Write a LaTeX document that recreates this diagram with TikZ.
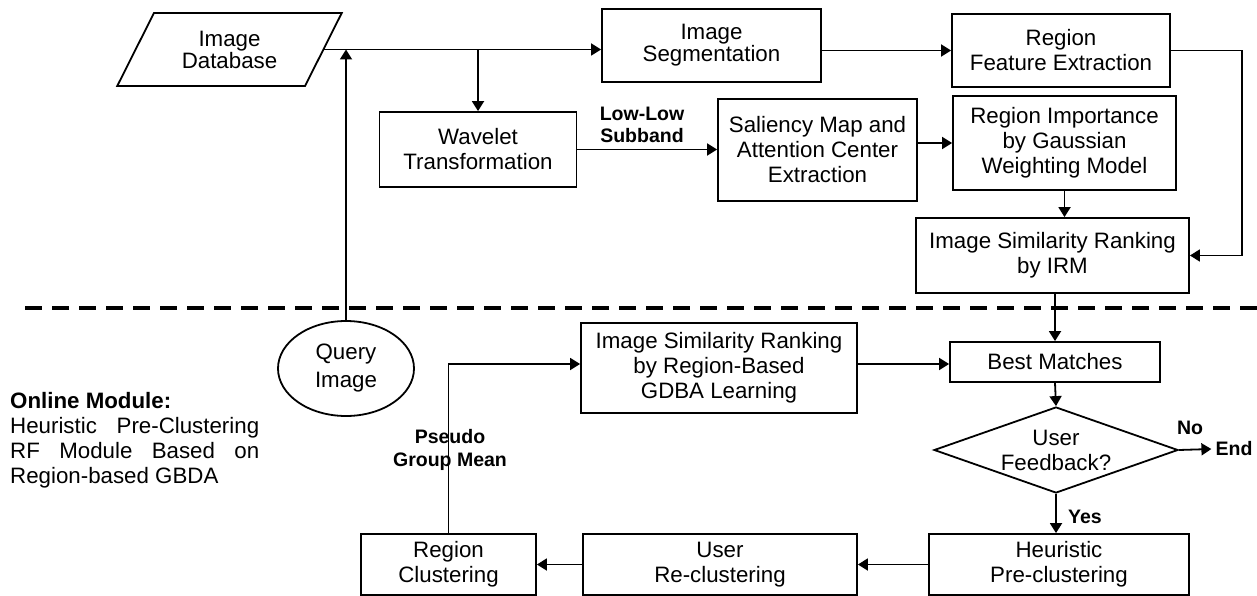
\documentclass[tikz,border=0pt]{standalone}
\usepackage{fontspec}
\setmainfont{Liberation Sans}
\usetikzlibrary{arrows.meta,shapes.geometric}
\begin{document}
\begin{tikzpicture}[x=1pt,y=-1pt,
  box/.style={draw, line width=1.8pt, align=center, font=\fontsize{22.3}{25}\selectfont, inner sep=0pt},
  tight/.style={font=\fontsize{22.3}{22}\selectfont},
  arr/.style={line width=1.8pt, -{Triangle[length=10pt,width=12pt]}},
  lbl/.style={font=\bfseries\fontsize{19.5}{22.5}\selectfont, align=center, inner sep=1pt},
  sep/.style={line width=4pt, dash pattern=on 17pt off 10pt}]
\useasboundingbox (0,0) rectangle (1257,596);

% offline part
\node[box, tight, shape=trapezium, trapezium left angle=58.3, trapezium right angle=121.7,
      trapezium stretches=true, minimum width=225pt, minimum height=73pt] (db) at (229.5,49.5) {Image\\Database};
\node[box, tight, minimum width=219pt, minimum height=73pt] (seg) at (711.5,45.5) {Image\\Segmentation};
\node[box, minimum width=218pt, minimum height=73pt] (rfe) at (1061,50.5) {Region\\Feature Extraction};
\node[box, minimum width=197pt, minimum height=75pt] (wav) at (478,149.5) {Wavelet\\Transformation};
\node[box, minimum width=199pt, minimum height=102pt] (sal) at (817.5,150) {Saliency Map and\\Attention Center\\Extraction};
\node[box, minimum width=223pt, minimum height=94pt] (rim) at (1064.5,143) {Region Importance\\by Gaussian\\Weighting Model};
\node[box, minimum width=273pt, minimum height=75pt] (irm) at (1052.5,255.5) {Image Similarity Ranking\\by IRM};
\node[lbl] (ll) at (642,125) {Low-Low\\Subband};

% separator
\coordinate (sepL) at (25,308);
\coordinate (sepR) at (1257,308);
\draw[sep] (sepL) -- (sepR);

% online part
\node[box, shape=ellipse, minimum width=136pt, minimum height=95pt, font=\fontsize{22.3}{28}\selectfont] (q) at (346,368.5) {Query\\Image};
\node[box, minimum width=276pt, minimum height=90pt] (gdba) at (719,368) {Image Similarity Ranking\\by Region-Based\\GDBA Learning};
\node[box, minimum width=210pt, minimum height=40pt] (best) at (1055,362) {Best Matches};
\node[box, shape=diamond, aspect=2.84, minimum width=244pt, minimum height=86pt] (fb) at (1056,450) {User\\Feedback?};
\node[box, minimum width=260pt, minimum height=61pt] (heur) at (1059,564.5) {Heuristic\\Pre-clustering};
\node[box, minimum width=274pt, minimum height=61pt] (user) at (720,564.5) {User\\Re-clustering};
\node[box, minimum width=175pt, minimum height=61pt] (rc) at (448.5,564.5) {Region\\Clustering};
\node[lbl] (no) at (1190,428) {No};
\node[lbl, inner sep=4pt] (end) at (1234,449) {End};
\node[lbl] (yes) at (1085,517) {Yes};
\node[lbl] (pgm) at (450,450) {Pseudo\\Group Mean};
\node[anchor=north west, inner sep=0pt, text width=249pt, align=justify,
      font=\fontsize{22.3}{25}\selectfont] (om) at (10,392) {\textbf{Online Module:}\\Heuristic Pre-Clustering RF Module Based on Region-based GBDA};

% connectors
\draw[arr] (db.0) -- (seg.west |- db.0);
\draw[arr] (wav.north |- db.0) -- (wav.north);
\draw[arr] (q.north) -- (q.north |- db.0);
\draw[arr] (seg.east |- rfe.west) -- (rfe.west);
\draw[arr] (wav.east) -- (sal.west |- wav.east);
\draw[arr] (sal.east |- rim.west) -- (rim.west);
\draw[arr] (rim.south) -- (rim.south |- irm.north);
\draw[arr] (rfe.east) -- ++(71,0) |- (irm.east);
\draw[arr] (best.north |- irm.south) -- (best.north);
\path ([yshift=4pt]gdba.east) coordinate (g1);
\draw[arr] (g1) -- (g1 -| best.west);
\draw[arr] (best.south) -- (fb.north);
\draw[arr] (fb.east) -- (end.west);
\draw[arr] (fb.south) -- (fb.south |- heur.north);
\draw[arr] (heur.west) -- (user.east);
\draw[arr] (user.west) -- (rc.east);
\path ([yshift=4pt]gdba.west) coordinate (g2);
\draw[arr] (rc.north) |- (g2);
\end{tikzpicture}
\end{document}
